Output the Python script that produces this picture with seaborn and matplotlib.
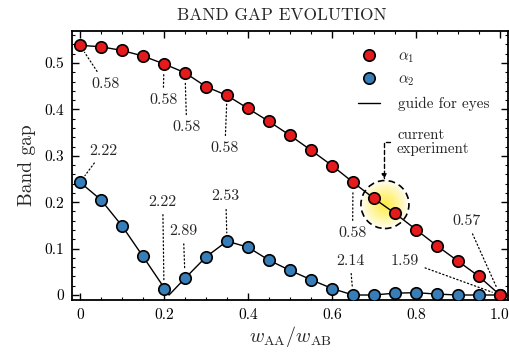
import numpy as np
import pandas as pd
import matplotlib
matplotlib.use("Agg")
import matplotlib.pyplot as plt
import seaborn as sns
from matplotlib.lines import Line2D
from matplotlib.patches import Ellipse

# ---------------- data ----------------
ratio = [0.0, 0.05, 0.10, 0.15, 0.20, 0.25, 0.30, 0.35, 0.40, 0.45, 0.50,
         0.55, 0.60, 0.65, 0.70, 0.75, 0.80, 0.85, 0.90, 0.95, 1.00]
alpha1 = [0.538, 0.535, 0.527, 0.515, 0.498, 0.479, 0.449, 0.430, 0.402, 0.374, 0.344,
          0.312, 0.279, 0.243, 0.208, 0.176, 0.141, 0.106, 0.073, 0.040, 0.0]
alpha2 = [0.243, 0.205, 0.149, 0.083, 0.014, 0.036, 0.082, 0.116, 0.103, 0.075, 0.053,
          0.033, 0.014, 0.0, 0.0, 0.004, 0.005, 0.002, 0.0, 0.0, 0.0]
# guide line for alpha2 has its cusp slightly right of x=0.2
guide2_x = [0.0, 0.05, 0.10, 0.15, 0.212, 0.25, 0.30, 0.35, 0.40, 0.45, 0.50,
            0.55, 0.60, 0.65, 0.70, 0.75, 0.80, 0.85, 0.90, 0.95, 1.00]
guide2_y = [0.243, 0.205, 0.149, 0.083, 0.0, 0.036, 0.082, 0.116, 0.103, 0.075, 0.053,
            0.033, 0.014, 0.0, 0.0, 0.004, 0.005, 0.002, 0.0, 0.0, 0.0]

# annotations: (label, series, index, text_x, text_y)
ann_labels = ["0.58", "0.58", "0.58", "0.58", "0.58", "0.57",
              "1.59", "2.14", "2.22", "2.22", "2.89", "2.53"]
ann_series = [1, 1, 1, 1, 1, 1, 2, 2, 2, 2, 2, 2]
ann_index = [0, 4, 5, 7, 13, 20, 20, 13, 0, 4, 5, 7]
ann_tx = [0.060, 0.198, 0.254, 0.345, 0.649, 0.921, 0.774, 0.643, 0.056, 0.197, 0.246, 0.347]
ann_ty = [0.455, 0.420, 0.361, 0.316, 0.133, 0.159, 0.074, 0.074, 0.311, 0.201, 0.138, 0.212]

x_ticks = [0, 0.2, 0.4, 0.6, 0.8, 1.0]
x_ticklabels = ["0", "0.2", "0.4", "0.6", "0.8", "1.0"]
y_ticks = [0, 0.1, 0.2, 0.3, 0.4, 0.5]
y_ticklabels = ["0", "0.1", "0.2", "0.3", "0.4", "0.5"]

exp_center = (0.726, 0.195)

RED = "#e41a1c"
BLUE = "#377eb8"

# ---------------- style ----------------
sns.set_theme(style="ticks")
plt.rcParams.update({
    "font.family": "serif",
    "font.serif": ["cmr10", "DejaVu Serif"],
    "mathtext.fontset": "cm",
    "axes.formatter.use_mathtext": True,
    "axes.linewidth": 1.3,
    "axes.edgecolor": "black",
    "xtick.direction": "in",
    "ytick.direction": "in",
    "xtick.top": True,
    "ytick.right": True,
    "xtick.major.size": 5,
    "ytick.major.size": 5,
    "xtick.minor.size": 2.5,
    "ytick.minor.size": 2.5,
    "xtick.major.width": 1.0,
    "ytick.major.width": 1.0,
    "xtick.minor.width": 0.8,
    "ytick.minor.width": 0.8,
    "xtick.color": "black",
    "ytick.color": "black",
})

fig = plt.figure(figsize=(5.09, 3.56), dpi=100)
ax = fig.add_axes([0.1415, 0.157, 0.998 - 0.1415, 0.913 - 0.157])

df1 = pd.DataFrame({"x": ratio, "y": alpha1})
df2 = pd.DataFrame({"x": ratio, "y": alpha2})
dg2 = pd.DataFrame({"x": guide2_x, "y": guide2_y})

# guide lines
sns.lineplot(data=df1, x="x", y="y", ax=ax, color="black", lw=1.0, sort=False,
             estimator=None, zorder=3)
sns.lineplot(data=dg2, x="x", y="y", ax=ax, color="black", lw=1.0, sort=False,
             estimator=None, zorder=3)

# markers
sns.scatterplot(data=df2, x="x", y="y", ax=ax, color=BLUE, s=68, edgecolor="black",
                linewidth=1.2, zorder=4)
sns.scatterplot(data=df1, x="x", y="y", ax=ax, color=RED, s=68, edgecolor="black",
                linewidth=1.2, zorder=5)

# limits / ticks
ax.set_xlim(-0.019, 1.019)
ax.set_ylim(-0.011, 0.569)
ax.set_xticks(x_ticks)
ax.set_xticklabels(x_ticklabels)
ax.set_yticks(y_ticks)
ax.set_yticklabels(y_ticklabels)
ax.xaxis.set_minor_locator(matplotlib.ticker.MultipleLocator(0.05))
ax.yaxis.set_minor_locator(matplotlib.ticker.MultipleLocator(0.02))
ax.tick_params(which="both", top=True, right=True, labelsize=11.2, pad=6)

ax.set_xlabel(r"$w_{\rm AA}/w_{\rm AB}$", fontsize=14.5, labelpad=1)
ax.set_ylabel("Band gap", fontsize=14, labelpad=6)
ax.set_title("BAND GAP EVOLUTION", fontsize=12.5, pad=8, x=0.482)

# annotations
for lab, ser, idx, tx, ty in zip(ann_labels, ann_series, ann_index, ann_tx, ann_ty):
    yv = alpha1[idx] if ser == 1 else alpha2[idx]
    ax.annotate(lab, xy=(ratio[idx], yv), xytext=(tx, ty), ha="center", va="center",
                fontsize=11.5, zorder=6,
                arrowprops=dict(arrowstyle="-", ls=(0, (1, 2)), lw=0.9, color="black",
                                shrinkA=2, shrinkB=6))

# current experiment glow
rx, ry = 24 / 420, 24 / 464
n = 200
gx, gy = np.meshgrid(np.linspace(-1, 1, n), np.linspace(-1, 1, n))
r = np.sqrt(gx ** 2 + gy ** 2)
img = np.zeros((n, n, 4))
img[..., 0] = 1.0
img[..., 1] = 0.92
img[..., 2] = 0.2
img[..., 3] = np.clip(1 - r, 0, 1) ** 0.8 * 0.9
ext = [exp_center[0] - rx, exp_center[0] + rx, exp_center[1] - ry, exp_center[1] + ry]
im = ax.imshow(img, extent=ext, origin="lower", zorder=1, aspect="auto",
               interpolation="bilinear")
circ = Ellipse(exp_center, 2 * rx, 2 * ry, fill=False, ls=(0, (4, 2.5)), lw=1.2,
               edgecolor="black", zorder=6)
ax.add_patch(circ)
im.set_clip_path(Ellipse(exp_center, 2 * rx, 2 * ry, transform=ax.transData))
ax.set_xlim(-0.019, 1.019)
ax.set_ylim(-0.011, 0.569)

ax.annotate("current\nexperiment", xy=(exp_center[0] - 0.002, exp_center[1] + ry),
            xytext=(0.755, 0.330), ha="left", va="center", fontsize=10.8,
            linespacing=1.0, zorder=6,
            arrowprops=dict(arrowstyle="-|>", ls=(0, (3, 2)), lw=1.0, color="black",
                            connectionstyle="angle,angleA=0,angleB=90,rad=0",
                            shrinkA=3, shrinkB=1, mutation_scale=7))

# legend
handles = [
    Line2D([], [], ls="none", marker="o", markersize=8.2, markerfacecolor=RED,
           markeredgecolor="black", markeredgewidth=1.2),
    Line2D([], [], ls="none", marker="o", markersize=8.2, markerfacecolor=BLUE,
           markeredgecolor="black", markeredgewidth=1.2),
    Line2D([], [], color="black", lw=1.0),
]
ax.legend(handles, [r"$\alpha_1$", r"$\alpha_2$", "guide for eyes"], loc="upper right",
          frameon=False, fontsize=11, handlelength=1.4, handletextpad=1.2,
          labelspacing=0.55, borderaxespad=0.8)

fig.savefig("out.png", dpi=100)
